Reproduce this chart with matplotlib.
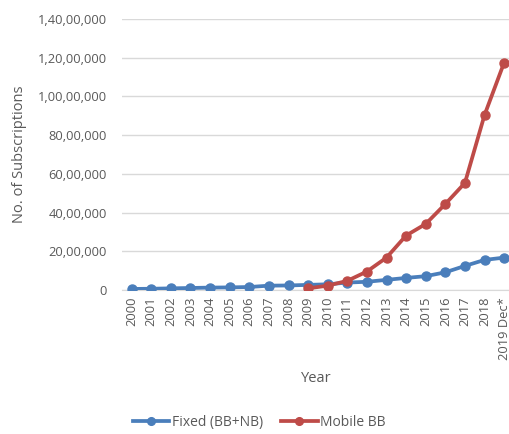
import matplotlib.pyplot as plt

# Data
years = ["2000", "2001", "2002", "2003", "2004", "2005", "2006", "2007", "2008", "2009",
         "2010", "2011", "2012", "2013", "2014", "2015", "2016", "2017", "2018", "2019 Dec*"]
fixed = [0.05e6, 0.06e6, 0.08e6, 0.10e6, 0.12e6, 0.13e6, 0.15e6, 0.22e6, 0.23e6, 0.26e6,
         0.29e6, 0.38e6, 0.42e6, 0.52e6, 0.62e6, 0.71e6, 0.91e6, 1.24e6, 1.55e6, 1.67e6]
mobile_years = years[9:]
mobile = [0.08e6, 0.22e6, 0.47e6, 0.95e6, 1.67e6, 2.81e6, 3.41e6, 4.44e6, 5.53e6, 9.04e6, 11.75e6]
y_ticks = [0, 2e6, 4e6, 6e6, 8e6, 10e6, 12e6, 14e6]
y_tick_labels = ["0", "20,00,000", "40,00,000", "60,00,000", "80,00,000",
                 "1,00,00,000", "1,20,00,000", "1,40,00,000"]

plt.rcParams['font.family'] = ['Open Sans', 'DejaVu Sans']
grey = '#595959'

fig = plt.figure(figsize=(5.10, 4.34), dpi=100)
ax = fig.add_axes([0.239, 0.332, 0.761, 0.624])

x_fixed = list(range(len(years)))
x_mobile = [years.index(y) for y in mobile_years]

ax.plot(x_fixed, fixed, color='#4a7ebb', lw=2.7, marker='o', ms=6.5, label='Fixed (BB+NB)', zorder=3)
ax.plot(x_mobile, mobile, color='#be4b48', lw=2.7, marker='o', ms=6.5, label='Mobile BB', zorder=4)

ax.set_xlim(-0.5, 19.3)
ax.set_ylim(0, 14e6)
ax.set_yticks(y_ticks)
ax.set_yticklabels(y_tick_labels)
ax.set_xticks(x_fixed)
ax.set_xticklabels(years, rotation=90)
ax.tick_params(length=0, colors=grey, labelsize=9.3)
ax.tick_params(axis='y', pad=11)
ax.tick_params(axis='x', pad=5)

ax.grid(axis='y', color='#d9d9d9', lw=1)
ax.set_axisbelow(True)
for s in ['top', 'right', 'left']:
    ax.spines[s].set_visible(False)
ax.spines['bottom'].set_color('#d9d9d9')

ax.set_ylabel('No. of Subscriptions', color=grey, fontsize=10.5)
ax.yaxis.set_label_coords(-0.245, 0.5)
fig.text(0.62, 0.127, 'Year', color=grey, fontsize=10.5, ha='center', va='center')

fig.legend(loc='center', bbox_to_anchor=(0.509, 0.027), ncol=2, frameon=False,
           fontsize=10, labelcolor=grey, handlelength=2.6, handletextpad=0.2,
           columnspacing=1.3, markerscale=0.85)

fig.savefig('out.png', dpi=100)
